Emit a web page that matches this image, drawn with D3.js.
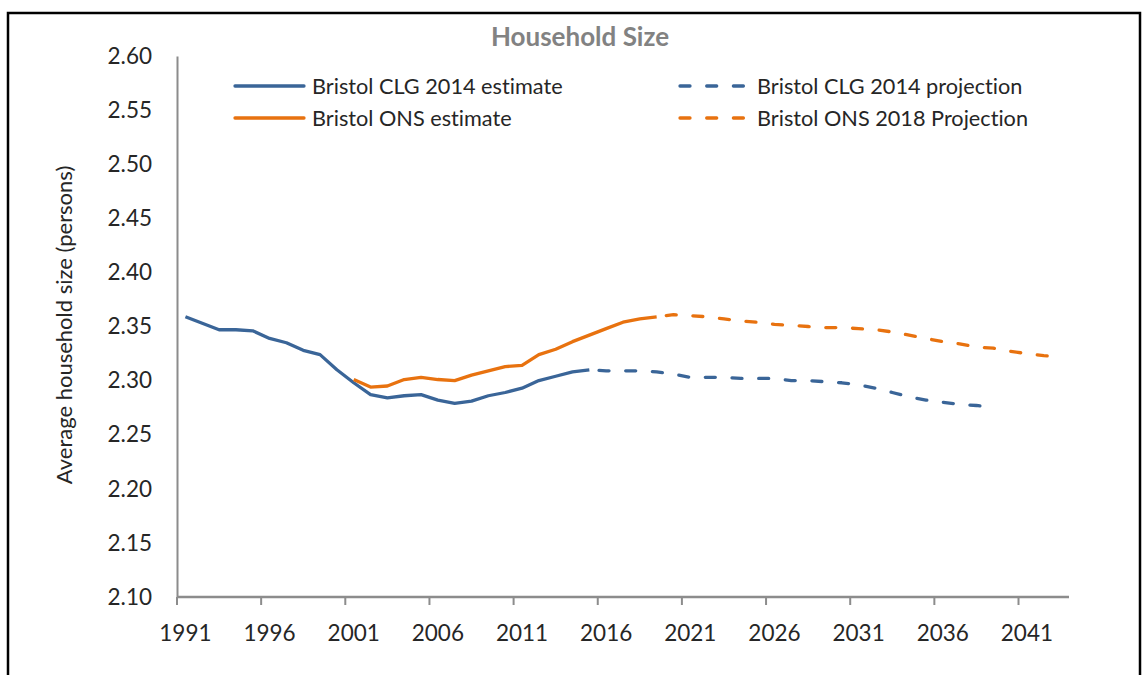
<!DOCTYPE html>
<html>
<head>
<meta charset="utf-8">
<script src="https://cdn.jsdelivr.net/npm/d3@7"></script>
<style>
  body { margin: 0; background: #fff; }
  text { font-family: Lato, "Open Sans", sans-serif; fill: #262626; font-variant-ligatures: none; }
</style>
</head>
<body>
<div class="chart"></div>
<script>
// categories
var years = d3.range(1991, 2044);
var xTickYears = [1991, 1996, 2001, 2006, 2011, 2016, 2021, 2026, 2031, 2036, 2041];
var yTicks = [2.10, 2.15, 2.20, 2.25, 2.30, 2.35, 2.40, 2.45, 2.50, 2.55, 2.60];

// Bristol CLG 2014 estimate, 1991-2015
var clgEstStart = 1991;
var clgEst = [2.359, 2.353, 2.347, 2.347, 2.346, 2.339, 2.335, 2.328, 2.324, 2.310,
              2.298, 2.287, 2.284, 2.286, 2.287, 2.282, 2.279, 2.281, 2.286, 2.289,
              2.293, 2.300, 2.304, 2.308, 2.310];
// Bristol CLG 2014 projection, 2015-2039
var clgProjStart = 2015;
var clgProj = [2.310, 2.309, 2.309, 2.309, 2.308, 2.306, 2.303, 2.303, 2.303, 2.302,
               2.302, 2.302, 2.300, 2.300, 2.299, 2.298, 2.296, 2.293, 2.289, 2.285,
               2.282, 2.280, 2.278, 2.277, 2.275];
// Bristol ONS estimate, 2001-2019
var onsEstStart = 2001;
var onsEst = [2.301, 2.294, 2.295, 2.301, 2.303, 2.301, 2.300, 2.305, 2.309, 2.313,
              2.314, 2.324, 2.329, 2.336, 2.342, 2.348, 2.354, 2.357, 2.359];
// Bristol ONS 2018 projection, 2019-2043
var onsProjStart = 2019;
var onsProj = [2.359, 2.361, 2.360, 2.359, 2.357, 2.355, 2.354, 2.352, 2.351, 2.350,
               2.349, 2.349, 2.348, 2.347, 2.345, 2.342, 2.339, 2.336, 2.334, 2.331,
               2.330, 2.327, 2.325, 2.323, 2.322];

var blue = "#3a6598", orange = "#e8720f", axisGrey = "#8c8c8c";

var svg = d3.select("body div.chart").append("svg").attr("width", 1146).attr("height", 675);

// outer frame
svg.append("rect").attr("x", 8).attr("y", 13).attr("width", 1132).attr("height", 700)
    .attr("fill", "none").attr("stroke", "#000").attr("stroke-width", 2.5);

var x = d3.scaleBand().domain(years).range([177, 1069]);
var y = d3.scaleLinear().domain([2.10, 2.60]).range([597, 56]);

function cx(yr) { return x(yr) + x.bandwidth() / 2; }

// y axis
var yAxis = svg.append("g").attr("transform", "translate(177,0)")
    .call(d3.axisLeft(y).tickValues(yTicks).tickFormat(d3.format(".2f")).tickSize(0).tickSizeOuter(0).tickPadding(25));
yAxis.select(".domain").attr("stroke", axisGrey).attr("stroke-width", 2);
yAxis.selectAll("text").style("font-size", "22.5px").style("font-family", "Lato, sans-serif").attr("fill", "#262626");

// x axis
var xg = svg.append("g");
xg.append("line").attr("x1", 177).attr("x2", 1069).attr("y1", 597).attr("y2", 597)
    .attr("stroke", axisGrey).attr("stroke-width", 2.5);
xg.selectAll("line.tick").data(xTickYears).enter().append("line")
    .attr("class", "tick")
    .attr("x1", function(d) { return x(d); }).attr("x2", function(d) { return x(d); })
    .attr("y1", 597).attr("y2", 605)
    .attr("stroke", axisGrey).attr("stroke-width", 2);
xg.selectAll("text").data(xTickYears).enter().append("text")
    .attr("x", function(d) { return cx(d); })
    .attr("y", 641)
    .attr("text-anchor", "middle")
    .style("font-size", "22.5px")
    .text(function(d) { return d; });

// axis title
svg.append("text")
    .attr("transform", "translate(72,325) rotate(-90)")
    .attr("text-anchor", "middle")
    .style("font-size", "22px")
    .text("Average household size (persons)");

// chart title
svg.append("text").attr("x", 580).attr("y", 46).attr("text-anchor", "middle")
    .style("font-size", "26px").style("font-weight", "bold").style("fill", "#828282")
    .text("Household Size");

var line = d3.line()
    .x(function(d) { return cx(d.year); })
    .y(function(d) { return y(d.value); });

function toPoints(start, vals) {
    return vals.map(function(v, i) { return {year: start + i, value: v}; });
}

var series = [
    {pts: toPoints(clgEstStart, clgEst), color: blue, dashed: false},
    {pts: toPoints(onsEstStart, onsEst), color: orange, dashed: false},
    {pts: toPoints(clgProjStart, clgProj), color: blue, dashed: true},
    {pts: toPoints(onsProjStart, onsProj), color: orange, dashed: true}
];

svg.selectAll("path.series").data(series).enter().append("path")
    .attr("class", "series")
    .attr("d", function(d) { return line(d.pts); })
    .attr("fill", "none")
    .attr("stroke", function(d) { return d.color; })
    .attr("stroke-width", 3.3)
    .attr("stroke-linejoin", "round")
    .attr("stroke-linecap", function(d) { return d.dashed ? "round" : "butt"; })
    .attr("stroke-dasharray", function(d) { return d.dashed ? "10,16.7" : null; })
    .attr("stroke-dashoffset", function(d) { return d.dashed ? 17 : null; });

// legend
var legendItems = [
    {label: "Bristol CLG 2014 estimate", color: blue, dashed: false, x: 235, y: 86},
    {label: "Bristol ONS estimate", color: orange, dashed: false, x: 235, y: 118},
    {label: "Bristol CLG 2014 projection", color: blue, dashed: true, x: 680, y: 86},
    {label: "Bristol ONS 2018 Projection", color: orange, dashed: true, x: 680, y: 118}
];
var lg = svg.selectAll("g.legend").data(legendItems).enter().append("g")
    .attr("class", "legend")
    .attr("transform", function(d) { return "translate(" + d.x + "," + d.y + ")"; });
lg.append("line")
    .attr("x1", 0).attr("x2", function(d) { return d.dashed ? 67 : 69; })
    .attr("y1", 0).attr("y2", 0)
    .attr("stroke", function(d) { return d.color; })
    .attr("stroke-width", 3.3)
    .attr("stroke-linecap", "round")
    .attr("stroke-dasharray", function(d) { return d.dashed ? "10,16.7" : null; });
lg.append("text")
    .attr("x", 77).attr("y", 7.5)
    .style("font-size", "21.7px")
    .text(function(d) { return d.label; });
</script>
</body>
</html>
